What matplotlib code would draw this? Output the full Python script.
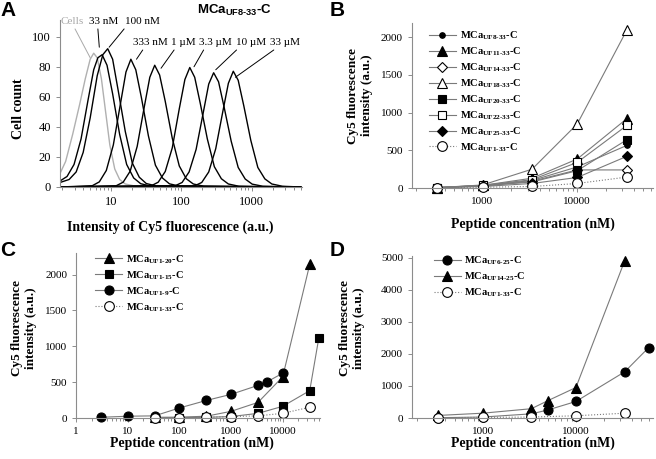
import numpy as np
import matplotlib
matplotlib.use('Agg')
import matplotlib.pyplot as plt

plt.rcParams['font.family'] = ['Liberation Serif', 'DejaVu Serif']
plt.rcParams['mathtext.fontset'] = 'custom'
plt.rcParams['mathtext.rm'] = 'Liberation Serif'
plt.rcParams['mathtext.bf'] = 'Liberation Serif:bold'
plt.rcParams['mathtext.sf'] = 'Liberation Sans:bold'

HY = '\u2010'

# ---------------- panel A: flow cytometry histograms (log10 intensity, count)
cells_log = [0.27, 0.35, 0.45, 0.55, 0.63, 0.70, 0.75, 0.80, 0.86, 0.92, 0.98, 1.05, 1.12, 1.20, 1.35, 3.70]
cells_cnt = [9, 17, 35, 55, 72, 85, 89, 86, 72, 50, 28, 12, 5, 2, 0.5, 0]
nm33_log = [0.27, 0.37, 0.47, 0.57, 0.67, 0.75, 0.81, 0.87, 0.94, 1.02, 1.12, 1.22, 1.32, 1.42, 1.57, 3.70]
nm33_cnt = [4, 7, 15, 32, 58, 78, 86, 88, 81, 62, 35, 15, 6, 2.2, 0.5, 0]
nm100_log = [0.27, 0.40, 0.50, 0.60, 0.70, 0.80, 0.88, 0.95, 1.02, 1.10, 1.20, 1.30, 1.40, 1.50, 1.65, 3.70]
nm100_cnt = [3, 5, 10, 23, 46, 74, 88, 92, 85, 64, 37, 16, 6.5, 2.3, 0.6, 0]
nm333_log = [0.27, 0.73, 0.83, 0.93, 1.03, 1.13, 1.21, 1.28, 1.35, 1.43, 1.53, 1.63, 1.73, 1.83, 1.98, 3.70]
nm333_cnt = [0, 0.85, 3.4, 11, 28, 55, 76.5, 85, 78, 59.5, 34, 14.5, 6, 2.1, 0.5, 0]
um1_log = [0.27, 1.07, 1.17, 1.27, 1.37, 1.47, 1.55, 1.62, 1.69, 1.77, 1.87, 1.97, 2.07, 2.17, 2.32, 3.70]
um1_cnt = [0, 0.8, 3.2, 10.5, 27, 53, 73, 81, 74.5, 57, 32.5, 14, 5.5, 2, 0.5, 0]
um3_log = [0.27, 1.57, 1.67, 1.77, 1.87, 1.97, 2.05, 2.12, 2.19, 2.27, 2.37, 2.47, 2.57, 2.67, 2.82, 3.70]
um3_cnt = [0, 0.8, 3.2, 10.3, 26, 52, 71.5, 79.5, 73, 55.5, 32, 13.5, 5.5, 2, 0.5, 0]
um10_log = [0.27, 1.91, 2.01, 2.11, 2.21, 2.31, 2.39, 2.46, 2.53, 2.61, 2.71, 2.81, 2.91, 3.01, 3.16, 3.70]
um10_cnt = [0, 0.8, 3, 10, 25, 49, 68.5, 76, 70, 53, 30.5, 13, 5.3, 1.9, 0.5, 0]
um33_log = [0.27, 2.19, 2.29, 2.39, 2.49, 2.59, 2.67, 2.74, 2.81, 2.89, 2.99, 3.09, 3.19, 3.29, 3.44, 3.70]
um33_cnt = [0, 0.8, 3, 10, 25.5, 50, 69, 77, 71, 54, 31, 13, 5.4, 2, 0.5, 0]

hist_labels = ['Cells', '33 nM', '100 nM', '333 nM', '1 \u00b5M', '3.3 \u00b5M', '10 \u00b5M', '33 \u00b5M']
hist_logs = [cells_log, nm33_log, nm100_log, nm333_log, um1_log, um3_log, um10_log, um33_log]
hist_cnts = [cells_cnt, nm33_cnt, nm100_cnt, nm333_cnt, um1_cnt, um3_cnt, um10_cnt, um33_cnt]

# ---------------- panel B
conc_b = [333, 1000, 3333, 10000, 33333]
b_uf8 = [5, 30, 100, 280, 565]
b_uf11 = [5, 35, 130, 385, 920]
b_uf14 = [5, 25, 90, 240, 240]
b_uf18 = [5, 40, 250, 850, 2095]
b_uf20 = [5, 30, 80, 230, 640]
b_uf22 = [5, 35, 110, 340, 830]
b_uf25 = [5, 20, 60, 140, 420]
b_uf1 = [5, 10, 20, 60, 145]

# ---------------- panel C
conc_c9 = [3, 10, 33, 100, 333, 1000, 3333, 5000, 10000]
c_uf9 = [10, 25, 30, 140, 245, 330, 455, 505, 625]
conc_c20 = [33, 100, 333, 1000, 3333, 10000, 33333]
c_uf20 = [10, 12, 25, 93, 218, 575, 2140]
conc_c15 = [33, 100, 333, 1000, 3333, 10000, 33333, 50000]
c_uf15 = [5, 5, 10, 20, 65, 163, 381, 1116]
conc_c33 = [33, 100, 333, 1000, 3333, 10000, 33333]
c_uf33 = [5, 5, 10, 20, 30, 65, 150]

# ---------------- panel D
conc_d6 = [333, 1000, 3333, 5000, 10000, 33333, 60000]
d_uf6 = [10, 30, 130, 250, 515, 1440, 2190]
conc_d14 = [333, 1000, 3333, 5000, 10000, 33333]
d_uf14 = [80, 150, 290, 540, 950, 4900]
conc_d33 = [333, 1000, 3333, 10000, 33333]
d_uf33 = [10, 20, 30, 70, 150]


def mca(sub):
    return 'MCa$_{\\mathbf{' + sub.replace('-', HY) + '}}$-C'


AXC = '#8c8c8c'
LNC = '#7a7a7a'
LEG_PROP = {'family': 'Liberation Serif', 'weight': 'bold', 'size': 7.5}


def style_axes(ax, tick_fs=8):
    for s in ['top', 'right']:
        ax.spines[s].set_visible(False)
    for s in ['left', 'bottom']:
        ax.spines[s].set_color(AXC)
        ax.spines[s].set_linewidth(0.8)
    ax.tick_params(which='both', colors=AXC, labelcolor='black', labelsize=tick_fs, width=0.7)
    ax.tick_params(which='major', length=3)
    ax.tick_params(which='minor', length=2)


def log_fmt(ax, ticks):
    ax.set_xticks(ticks)
    ax.set_xticklabels([str(t) for t in ticks])


def conc_labels(ax, xl, yl):
    ax.set_xlabel('Peptide concentration (nM)', fontsize=10, fontweight='bold')
    ax.xaxis.set_label_coords(*xl)
    ax.set_ylabel('Cy5 fluorescence\nintensity (a.u.)', fontsize=9.5, fontweight='bold', linespacing=1.25)
    ax.yaxis.set_label_coords(*yl)


fig = plt.figure(figsize=(6.56, 4.59), dpi=100)

# ---------------- A
axA = fig.add_axes([0.0915, 0.5926, 0.3689, 0.3635])
for i, (lg, ct) in enumerate(zip(hist_logs, hist_cnts)):
    col = '#b0b0b0' if i == 0 else 'black'
    axA.plot(10 ** np.array(lg), ct, color=col, lw=1.0)
axA.set_xscale('log')
axA.set_xlim(10 ** 0.27, 10 ** 3.72)
axA.set_ylim(0, 111)
axA.set_yticks(range(0, 101, 20))
log_fmt(axA, [10, 100, 1000])
style_axes(axA, tick_fs=9)
axA.set_xlabel('Intensity of Cy5 fluorescence (a.u.)', fontsize=10, fontweight='bold')
axA.xaxis.set_label_coords(0.455, -0.2)
axA.set_ylabel('Cell count', fontsize=10, fontweight='bold')
axA.yaxis.set_label_coords(-0.145, 0.47)

# label text position (log x, count), leader end (log x, count), relpos along text bottom
lab_pos = [(0.44, 110, 0.70, 86, 0.57),
           (0.89, 110, 0.83, 93, 0.3),
           (1.44, 110, 0.97, 93, 0.05),
           (1.56, 96, 1.36, 85, 0.33),
           (2.03, 96, 1.71, 79, 0.2),
           (2.48, 96, 2.18, 80, 0.2),
           (3.00, 96, 2.49, 78, 0.1),
           (3.48, 96, 2.77, 73, 0.25)]
for lab, (tx, ty, ex, ey, rp) in zip(hist_labels, lab_pos):
    col = '#a8a8a8' if lab == 'Cells' else 'black'
    axA.annotate(lab, xy=(10 ** ex, ey), xytext=(10 ** tx, ty), ha='center', va='center',
                 fontsize=8, color=col, annotation_clip=False,
                 arrowprops=dict(arrowstyle='-', color=col, lw=0.7, relpos=(rp, 0),
                                 shrinkA=0, shrinkB=0))
fig.text(0.358, 0.978, 'MCa$_{\\mathsf{UF8' + HY + '33}}$-C', ha='center', va='center',
         fontsize=9.5, fontweight='bold', family='Liberation Sans')

# ---------------- B
axB = fig.add_axes([0.628, 0.5904, 0.3674, 0.3595])
b_series = [
    (b_uf8, 'o', 'black', 4.0, '-', 'UF8-33'),
    (b_uf11, '^', 'black', 6.5, '-', 'UF11-33'),
    (b_uf14, 'D', 'white', 5.5, '-', 'UF14-33'),
    (b_uf18, '^', 'white', 7.0, '-', 'UF18-33'),
    (b_uf20, 's', 'black', 5.5, '-', 'UF20-33'),
    (b_uf22, 's', 'white', 6.0, '-', 'UF22-33'),
    (b_uf25, 'D', 'black', 5.5, '-', 'UF25-33'),
    (b_uf1, 'o', 'white', 7.0, ':', 'UF1-33'),
]
for vals, mk, fc, ms, ls, sub in b_series:
    axB.plot(conc_b, vals, ls=ls, color=LNC, lw=0.8, marker=mk, mfc=fc, mec='black',
             mew=0.8, ms=ms, clip_on=False, label=mca(sub))
axB.set_xscale('log')
axB.set_xlim(180, 63000)
axB.set_ylim(0, 2190)
axB.set_yticks(range(0, 2001, 500))
log_fmt(axB, [1000, 10000])
style_axes(axB)
axB.legend(loc='upper left', bbox_to_anchor=(0.07, 0.96), frameon=False, prop=LEG_PROP,
           handlelength=2.6, handletextpad=0.35, labelspacing=0.3, borderpad=0, borderaxespad=0)
conc_labels(axB, (0.5, -0.18), (-0.16, 0.56))

# ---------------- C
axC = fig.add_axes([0.116, 0.0893, 0.372, 0.3595])
c_series = [
    (conc_c20, c_uf20, '^', 'black', 6.5, '-', 'UF1-20'),
    (conc_c15, c_uf15, 's', 'black', 5.5, '-', 'UF1-15'),
    (conc_c9, c_uf9, 'o', 'black', 6.5, '-', 'UF1-9'),
    (conc_c33, c_uf33, 'o', 'white', 7.0, ':', 'UF1-33'),
]
for xs, vals, mk, fc, ms, ls, sub in c_series:
    axC.plot(xs, vals, ls=ls, color=LNC, lw=0.8, marker=mk, mfc=fc, mec='black',
             mew=0.8, ms=ms, clip_on=False, label=mca(sub))
axC.set_xscale('log')
axC.set_xlim(1, 53000)
axC.set_ylim(0, 2300)
axC.set_yticks(range(0, 2001, 500))
log_fmt(axC, [1, 10, 100, 1000, 10000])
style_axes(axC)
axC.legend(loc='upper left', bbox_to_anchor=(0.078, 1.0), frameon=False, prop=LEG_PROP,
           handlelength=2.6, handletextpad=0.35, labelspacing=0.3, borderpad=0, borderaxespad=0)
conc_labels(axC, (0.475, -0.115), (-0.16, 0.545))

# ---------------- D
axD = fig.add_axes([0.628, 0.0893, 0.3674, 0.353])
d_series = [
    (conc_d6, d_uf6, 'o', 'black', 6.5, '-', 'UF6-25'),
    (conc_d14, d_uf14, '^', 'black', 6.5, '-', 'UF14-25'),
    (conc_d33, d_uf33, 'o', 'white', 7.0, ':', 'UF1-33'),
]
for xs, vals, mk, fc, ms, ls, sub in d_series:
    axD.plot(xs, vals, ls=ls, color=LNC, lw=0.8, marker=mk, mfc=fc, mec='black',
             mew=0.8, ms=ms, clip_on=False, label=mca(sub))
axD.set_xscale('log')
axD.set_xlim(175, 67000)
axD.set_ylim(0, 5050)
axD.set_yticks(range(0, 5001, 1000))
log_fmt(axD, [1000, 10000])
style_axes(axD)
axD.legend(loc='upper left', bbox_to_anchor=(0.09, 1.01), frameon=False, prop=LEG_PROP,
           handlelength=2.6, handletextpad=0.35, labelspacing=0.3, borderpad=0, borderaxespad=0)
conc_labels(axD, (0.5, -0.117), (-0.195, 0.556))

# panel letters
for lx, ly, letter in [(0.0, 0.978, 'A'), (0.503, 0.978, 'B'), (0.0, 0.455, 'C'), (0.503, 0.455, 'D')]:
    fig.text(lx, ly, letter, ha='left', va='center', fontsize=15, fontweight='bold',
             family='Liberation Sans')

fig.savefig('out.png', dpi=100)
